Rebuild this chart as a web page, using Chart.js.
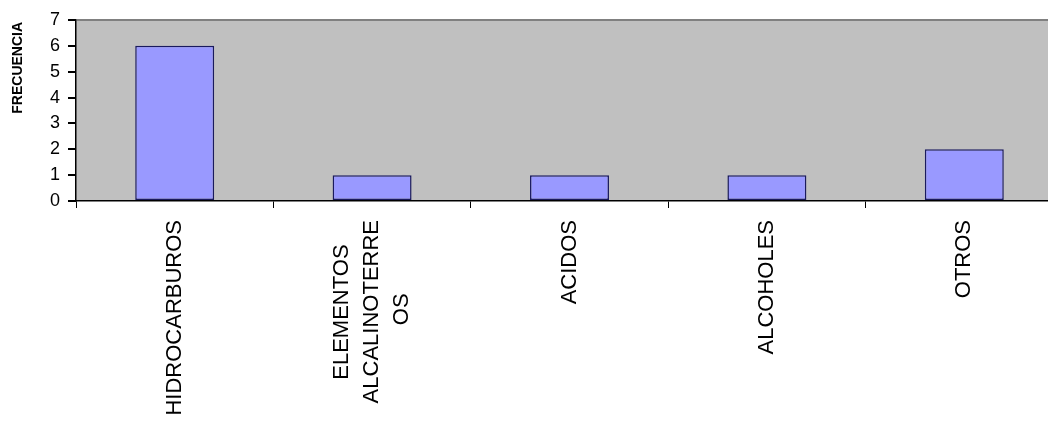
<!DOCTYPE html>
<html>
<head>
<meta charset="utf-8">
<script src="https://cdn.jsdelivr.net/npm/chart.js@4/dist/chart.umd.min.js"></script>
<style>
  html, body { margin: 0; padding: 0; background: #fff; overflow: hidden; }
  #wrap { width: 1063px; height: 423px; }
</style>
</head>
<body>
<div id="wrap"><canvas id="barCanvas"></canvas></div>
<script>
// categories (second one wraps over three lines, padded so the lines look centred)
var categories = [
    'HIDROCARBUROS',
    ['ELEMENTOS    ', 'ALCALINOTERRE', 'OS            '],
    'ACIDOS',
    'ALCOHOLES',
    'OTROS'
];
var frequencies = [6, 1, 1, 1, 2];
var yMin = 0;
var yMax = 7;
var yTitle = 'FRECUENCIA';

// grey plot area like the old spreadsheet chart, plus the vertical axis title
var plotBackground = {
    id: 'plotBackground',
    beforeDraw: function(chart) {
        var a = chart.chartArea;
        var c = chart.ctx;
        c.save();
        c.fillStyle = '#c0c0c0';
        c.fillRect(a.left, a.top, a.right - a.left, a.bottom - a.top);
        c.restore();
        // multi-line label: keep the middle line on the category centre
        var items = chart.scales.x.getLabelItems();
        items.forEach(function(item) {
            if (Array.isArray(item.label) && !item._moved) {
                var lh = item.font.lineHeight;
                item.options.translation[0] -= lh * (item.label.length - 1) / 2;
                item._moved = true;
            }
        });
    },
    afterDraw: function(chart) {
        var c = chart.ctx;
        var s = chart.scales.y;
        c.save();
        c.translate(s.left + 18, s.getPixelForValue(5.15));
        c.rotate(-Math.PI / 2);
        c.textAlign = 'center';
        c.textBaseline = 'middle';
        c.fillStyle = '#000';
        c.font = 'bold 14px "Liberation Sans", Arial, sans-serif';
        c.fillText(yTitle, 0, 0);
        c.restore();
    }
};

var ctx = document.getElementById('barCanvas').getContext('2d');
window.myBar = new Chart(ctx, {
    type: 'bar',
    data: {
        labels: categories,
        datasets: [{
            label: yTitle,
            data: frequencies,
            backgroundColor: '#9999ff',
            borderColor: '#1a1a5e',
            borderWidth: 1.5,
            borderSkipped: false,
            barPercentage: 0.4,
            categoryPercentage: 1
        }]
    },
    options: {
        responsive: true,
        maintainAspectRatio: false,
        animation: false,
        layout: { padding: { top: 20, right: 0, left: 0, bottom: 0 } },
        plugins: {
            legend: { display: false },
            tooltip: { enabled: false }
        },
        scales: {
            x: {
                grid: {
                    drawOnChartArea: false,
                    tickLength: 7,
                    tickColor: '#000',
                    offset: true
                },
                border: { color: '#000', width: 1.5 },
                ticks: {
                    minRotation: 90,
                    maxRotation: 90,
                    padding: 12,
                    color: '#000',
                    font: { family: 'Liberation Sans, Arial', size: 22, lineHeight: 1.35 }
                },
                afterFit: function(scale) { scale.height = 222; }
            },
            y: {
                min: yMin,
                max: yMax,
                ticks: {
                    stepSize: 1,
                    padding: 8,
                    color: '#000',
                    font: { family: 'Liberation Sans, Arial', size: 18 }
                },
                grid: {
                    tickLength: 8,
                    tickColor: '#000',
                    color: function(c) { return c.tick && c.tick.value === yMax ? '#808080' : 'rgba(0,0,0,0)'; },
                    lineWidth: 2
                },
                border: { color: '#000', width: 1.5 },
                afterFit: function(scale) { scale.width = 76; }
            }
        }
    },
    plugins: [plotBackground]
});
</script>
</body>
</html>
